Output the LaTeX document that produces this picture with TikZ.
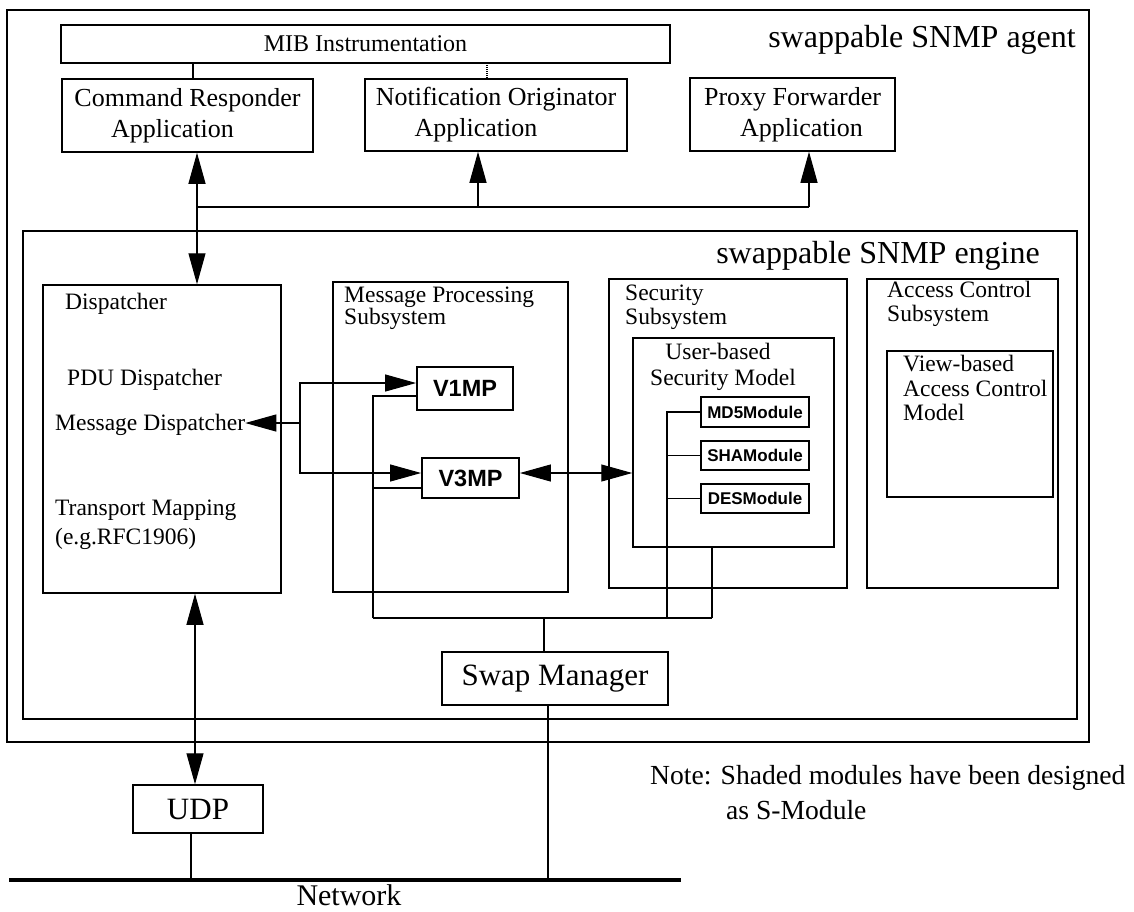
\documentclass[tikz,border=0pt]{standalone}
\usepackage{fontspec}
\setmainfont{Liberation Serif}
\newfontfamily\modfont{Liberation Sans}
\usetikzlibrary{arrows.meta}

\newcommand\setfs[2]{\fontsize{#1}{#2}\selectfont}

\tikzset{
  frame/.style={draw, line width=1.5pt, inner sep=0pt},
  box/.style={draw, line width=1.5pt, inner sep=0pt, align=center},
  modbox/.style={draw, line width=1.8pt, inner sep=0pt, font=\modfont\bfseries\setfs{17}{19}},
  mpbox/.style={draw, line width=1.8pt, inner sep=0pt, font=\modfont\bfseries\setfs{23.5}{25}},
  wire/.style={line width=1.1pt},
  thickwire/.style={line width=2.6pt},
  netline/.style={line width=4pt},
  arr/.style={line width=1.1pt, ->},
  arrs/.style={line width=1.1pt, <->},
  lbl/.style={inner sep=0pt, anchor=base west, font=\setfs{23.5}{25}},
  clbl/.style={inner sep=0pt, anchor=base, font=\setfs{23.5}{25}},
  biglbl/.style={inner sep=0pt, anchor=base east, font=\setfs{32}{34}},
  applbl/.style={font=\setfs{26}{31}},
}

\begin{document}
\begin{tikzpicture}[x=1pt,y=-1pt,>={Triangle[length=31pt,width=17pt]}]
\useasboundingbox (0,0) rectangle (1134,911);

% agent frame and its applications
\node[frame, minimum width=1082pt, minimum height=732pt] (agent) at (548,376) {};
\node[biglbl] (agentlbl) at (1076,47) {swappable SNMP agent};
\node[box, minimum width=609pt, minimum height=38pt, font=\setfs{24}{26}] (mib) at (365.5,44) {MIB Instrumentation};
\node[box, applbl, minimum width=251pt, minimum height=73pt] (cr) at (187.5,115.5) {Command Responder\\\hspace*{-30pt}Application};
\node[box, applbl, minimum width=262pt, minimum height=72pt] (no) at (496,115) {Notification Originator\\\hspace*{-40pt}Application};
\node[box, applbl, minimum width=205pt, minimum height=73pt] (pf) at (792.5,114.5) {Proxy Forwarder\\\hspace*{18pt}Application};

% engine frame
\node[frame, minimum width=1054pt, minimum height=488pt] (engine) at (550,475) {};
\node[biglbl] (enginelbl) at (1040,263) {swappable SNMP engine};

% dispatcher
\node[box, minimum width=238pt, minimum height=308pt] (disp) at (162,439) {};
\node[lbl] (dispt) at (65,309) {Dispatcher};
\node[lbl] (pdud) at (67,385) {PDU Dispatcher};
\node[lbl] (msgd) at (55,430) {Message Dispatcher};
\node[lbl] (tmap) at (55,515) {Transport Mapping};
\node[lbl] (rfc) at (55,544) {(e.g.RFC1906)};

% message processing subsystem
\node[box, minimum width=235pt, minimum height=310pt] (mps) at (450.5,437) {};
\node[lbl] (mpst1) at (344,302) {Message Processing};
\node[lbl] (mpst2) at (344,324) {Subsystem};
\node[mpbox, minimum width=96pt, minimum height=43pt] (v1) at (465,388.5) {V1MP};
\node[mpbox, minimum width=97pt, minimum height=40pt] (v3) at (470.5,478) {V3MP};

% security subsystem
\node[box, minimum width=238pt, minimum height=309pt] (sec) at (728,433.5) {};
\node[lbl] (sect1) at (625,300) {Security};
\node[lbl] (sect2) at (625,324) {Subsystem};
\node[box, minimum width=201pt, minimum height=209pt] (usm) at (733.5,442.5) {};
\node[clbl] (usmt1) at (718,359) {User-based};
\node[clbl] (usmt2) at (723,385) {Security Model};
\node[modbox, minimum width=108pt, minimum height=30pt] (md5) at (755,412) {MD5Module};
\node[modbox, minimum width=108pt, minimum height=29pt] (sha) at (755,455.5) {SHAModule};
\node[modbox, minimum width=108pt, minimum height=29pt] (des) at (755,498.5) {DESModule};

% access control subsystem
\node[box, minimum width=191pt, minimum height=309pt] (acs) at (962.5,433.5) {};
\node[lbl] (acst1) at (887,297) {Access Control};
\node[lbl] (acst2) at (887,321) {Subsystem};
\node[box, minimum width=166pt, minimum height=146pt] (vacm) at (970,424) {};
\node[lbl] (vacmt1) at (903,371) {View-based};
\node[lbl] (vacmt2) at (903,396) {Access Control};
\node[lbl] (vacmt3) at (903,420) {Model};

% swap manager, UDP, network
\node[box, minimum width=226pt, minimum height=53pt, font=\setfs{31}{33}] (sm) at (555,678.5) {Swap Manager};
\node[box, minimum width=130pt, minimum height=48pt, font=\setfs{31}{33}] (udp) at (198,809) {UDP};
\coordinate (netL) at (9,880);
\coordinate (netR) at (681,880);
\draw[netline] (netL) -- (netR);
\node[inner sep=0pt, anchor=base, font=\setfs{30}{32}] (net) at (349,905) {Network};

% note
\node[inner sep=0pt, anchor=base west, font=\setfs{27.6}{30}] (note1) at (650,784) {Note: Shaded modules have been designed};
\node[inner sep=0pt, anchor=base west, font=\setfs{27.6}{30}] (note2) at (726,819) {as S-Module};

% MIB links
\draw[wire] ([xshift=5.5pt]cr.north) -- ([xshift=5.5pt]cr.north |- mib.south);
\draw[wire, densely dotted] ([xshift=-9pt]no.north) -- ([xshift=-9pt]no.north |- mib.south);

% application bus
\coordinate (busL) at (197,207);
\coordinate (busR) at (809,207);
\draw[wire] (busL) -- (busR);
\draw[arr] (busL) -- (busL |- cr.south);
\draw[arr] ([xshift=-18pt]no.south |- busL) -- ([xshift=-18pt]no.south);
\draw[arr] (busR) -- (busR |- pf.south);
\draw[arr] (busL) -- (busL |- disp.north);

% dispatcher to message processing models
\coordinate (mj) at (300,423);
\draw[arr] (mj) -- (msgd.east |- mj);
\draw[arr] (mj) |- ([yshift=5.5pt]v1.west);
\draw[arr] (mj) |- ([yshift=5pt]v3.west);
\draw[arrs] ([yshift=5pt]v3.east) -- ([yshift=5pt]v3.east -| usm.west);

% swap wiring
\coordinate (swL) at (373,618);
\coordinate (swR) at (712,618);
\coordinate (mdx) at (667,618);
\draw[wire] (swL) |- ([yshift=-7.5pt]v1.west);
\draw[wire] ([yshift=-10pt]v3.west) -| (swL);
\draw[wire] (swL) -- (swR);
\draw[wire] (swR) -- (swR |- usm.south);
\draw[wire] (mdx) |- (md5.west);
\draw[wire] (mdx |- sha.west) -- (sha.west);
\draw[wire] (mdx |- des.west) -- (des.west);
\draw[wire] ([xshift=-11pt]sm.north) -- ([xshift=-11pt]sm.north |- swL);

% network attachments
\draw[arrs] ([xshift=33pt]disp.south) -- ([xshift=-3pt]udp.north);
\draw[thickwire] ([xshift=-7pt]udp.south) -- ([xshift=-7pt]udp.south |- netL);
\draw[thickwire] ([xshift=-7pt]sm.south) -- ([xshift=-7pt]sm.south |- netL);
\end{tikzpicture}
\end{document}
